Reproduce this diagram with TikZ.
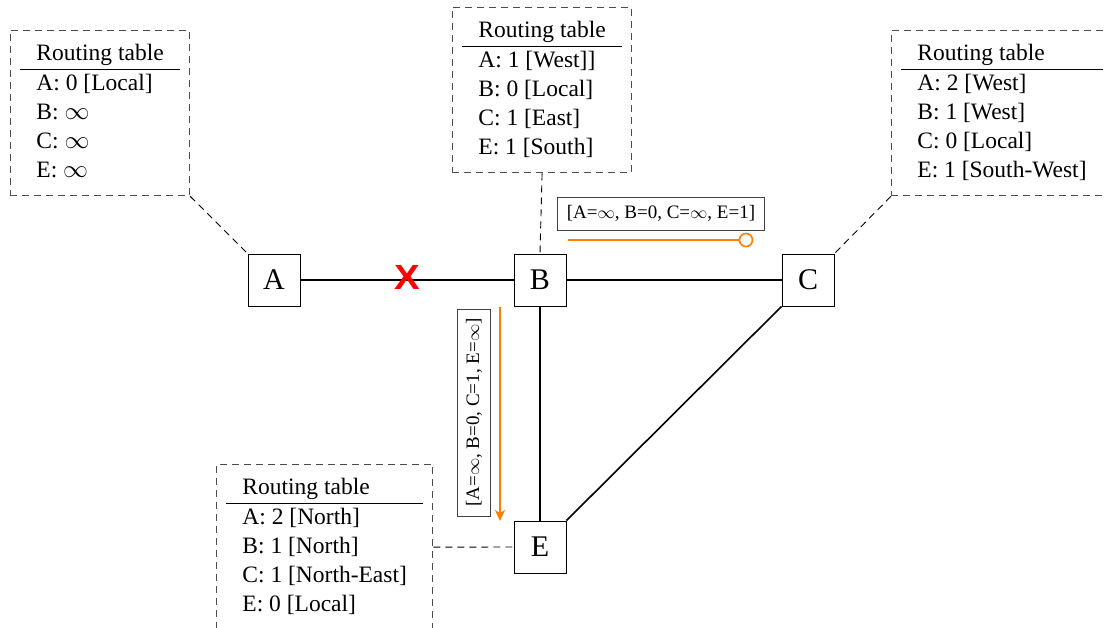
\documentclass[tikz,border=0pt]{standalone}
\usepackage{fontspec}
\setmainfont{Liberation Serif}
\newfontfamily\xsans{Liberation Sans}
\usetikzlibrary{arrows.meta}
\definecolor{msgorange}{RGB}{255,128,0}
\newcommand\rtab[1]{\begin{tabular}{@{\hspace{16pt}}l@{\hspace{16pt}}}Routing table\\\hline #1\end{tabular}}
\begin{document}
\begin{tikzpicture}[x=1pt,y=-1pt,
  router/.style={draw=black, line width=0.8pt, minimum size=52pt, inner sep=0pt, font=\fontsize{30}{36}\selectfont},
  tbl/.style={draw=black!70, dash pattern=on 7pt off 5pt, line width=0.9pt, inner sep=10pt, anchor=north west, font=\fontsize{23.5}{29}\selectfont},
  link/.style={line width=1.6pt, black},
  leader/.style={black, line width=0.9pt, dash pattern=on 7pt off 5pt},
  msg/.style={draw=black!75, line width=0.7pt, fill=white, inner xsep=9.5pt, inner ysep=0pt, minimum height=33pt, font=\fontsize{19}{23}\selectfont},
  msgline/.style={msgorange, line width=1.6pt}
]
\clip (0,0) rectangle (1104,628);
\useasboundingbox (0,0) rectangle (1104,628);

% routers
\node[router] (A) at (274,280) {A};
\node[router] (B) at (540,280) {B};
\node[router] (C) at (808,280) {C};
\node[router] (E) at (540,547) {E};

% links
\draw[link] (A) -- (B);
\draw[link] (B) -- (C);
\draw[link] (B) -- (E);
\draw[link] (C.south west) -- (E.north east);

% broken link mark
\node[text=red, font=\xsans\bfseries\fontsize{35}{35}\selectfont, inner sep=0pt] (X) at (407,277) {\scalebox{1.1}[1]{X}};

% routing tables
\node[tbl] (tA) at (10,30) {\rtab{A: 0 [Local]\\ B: $\infty$\\ C: $\infty$\\ E: $\infty$}};
\node[tbl] (tB) at (452,7) {\rtab{A: 1 [West]]\\ B: 0 [Local]\\ C: 1 [East]\\ E: 1 [South]}};
\node[tbl] (tC) at (891,30) {\rtab{A: 2 [West]\\ B: 1 [West]\\ C: 0 [Local]\\ E: 1 [South-West]}};
\node[tbl] (tE) at (216,464) {\rtab{A: 2 [North]\\ B: 1 [North]\\ C: 1 [North-East]\\ E: 0 [Local]}};

% leaders
\draw[leader] (tA.south east) -- (A.north west);
\draw[leader] (tB.south) -- (B.north);
\draw[leader] (tC.south west) -- (C.north east);
\draw[leader] (tE.east) -- (E.west);

% messages
\node[msg] (m1) at (661,213.5) {[A=$\infty$, B=0, C=$\infty$, E=1]};
\coordinate (m1s) at (568,240);
\coordinate (m1e) at (746,240);
\draw[msgline] (m1s) -- (m1e);
\node[draw=msgorange, line width=1.6pt, fill=white, circle, minimum size=13pt, inner sep=0pt] (m1c) at (m1e) {};

\node[msg, rotate=90] (m2) at (474,412.5) {[A=$\infty$, B=0, C=1, E=$\infty$]};
\coordinate (m2s) at (500,307);
\coordinate (m2e) at (500,521);
\draw[msgline, -{Stealth[length=11pt,width=10pt,inset=3pt]}] (m2s) -- (m2e);
\end{tikzpicture}
\end{document}
